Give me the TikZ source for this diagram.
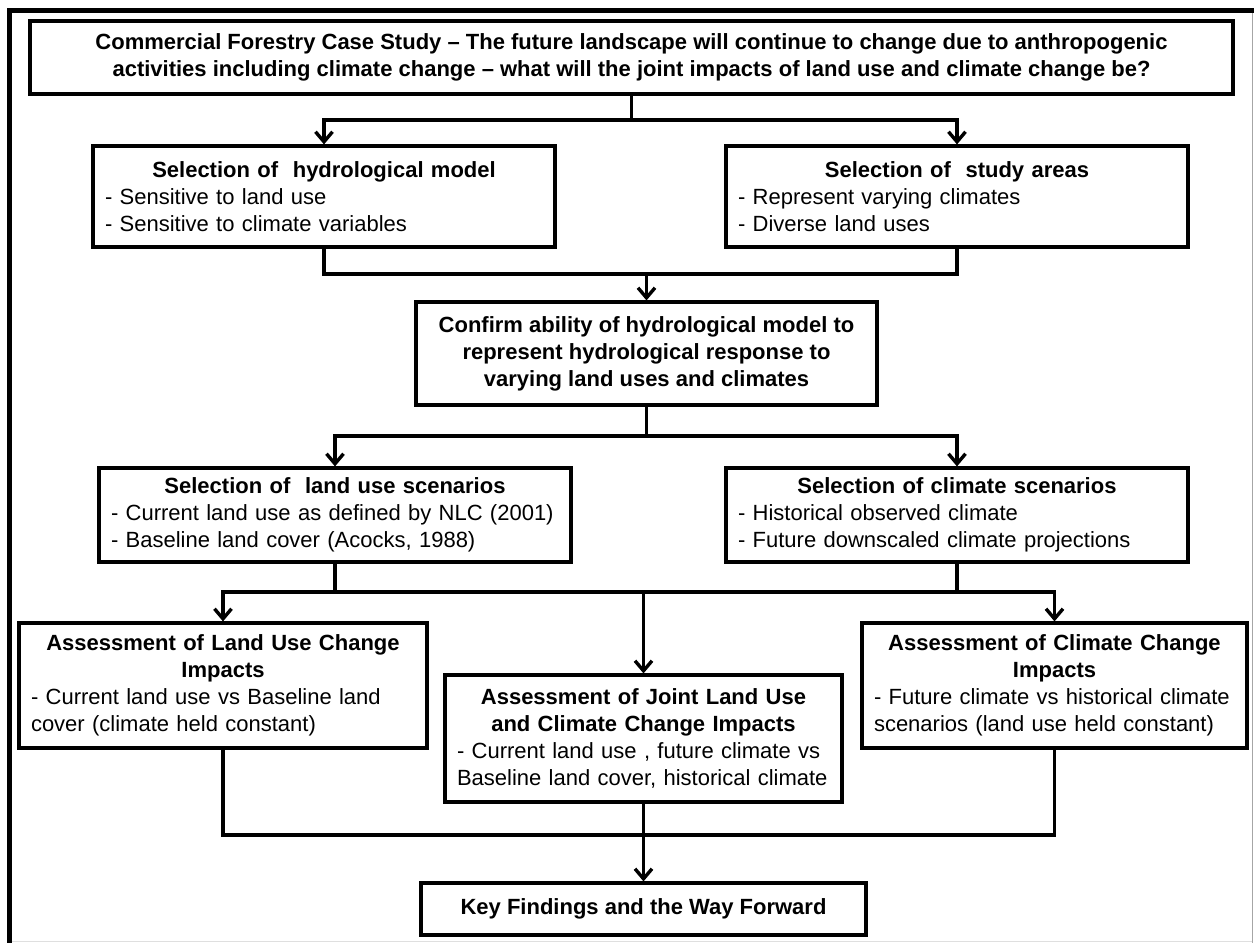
\documentclass[tikz,border=0pt]{standalone}
\usepackage{fontspec}
\setmainfont{Liberation Sans}
\usetikzlibrary{arrows.meta}
\newcommand\mttl[1]{{\centering\bfseries #1\par}}
\newcommand\mbl[1]{{\raggedright\mbox{#1}\par}}
\begin{document}
\begin{tikzpicture}[x=1pt,y=-1pt,
  bx/.style={draw=black, line width=3.2pt, fill=white, inner xsep=12pt, inner ysep=0pt,
    font=\fontsize{22}{27}\selectfont},
  cbx/.style={bx, align=center, font=\fontsize{22}{27}\selectfont\bfseries},
  mbx/.style={bx, execute at begin node={\setlength{\parindent}{0pt}}},
  ln/.style={line width=3.4pt, line join=miter},
  arr/.style={ln, -{Straight Barb[length=10pt,width=17pt]}},
  frm/.style={line width=5pt},
]
\useasboundingbox (0,0) rectangle (1254,943);

% outer frame
\draw[frm] (9.5,943) -- (9.5,10.5) -- (1254,10.5);
\draw[gray!70, line width=1pt] (1252.5,13) -- (1252.5,943);
\draw[gray!25, line width=1pt] (12,941.5) -- (1252,941.5);

% boxes
\node[cbx, minimum width=1203pt, minimum height=73pt] (top) at (631.5,57.5)
  {Commercial Forestry Case Study -- The future landscape will continue to change due to anthropogenic\\
   activities including climate change -- what will the joint impacts of land use and climate change be?};

\node[mbx, text width=438pt, minimum width=462pt, minimum height=101pt] (hydro) at (324,196.5)
  {\mttl{Selection of\ \ hydrological model}\mbl{- Sensitive to land use}\mbl{- Sensitive to climate variables}};

\node[mbx, text width=438pt, minimum width=462pt, minimum height=101pt] (study) at (957,196.5)
  {\mttl{Selection of\ \ study areas}\mbl{- Represent varying climates}\mbl{- Diverse land uses}};

\node[cbx, minimum width=461pt, minimum height=103pt] (confirm) at (646.5,353.5)
  {Confirm ability of hydrological model to\\represent hydrological response to\\varying land uses and climates};

\node[mbx, text width=448pt, minimum width=472pt, minimum height=94pt] (luscen) at (335,515)
  {\mttl{Selection of\ \ land use scenarios}\mbl{- Current land use as defined by NLC (2001)}\mbl{- Baseline land cover (Acocks, 1988)}};

\node[mbx, text width=438pt, minimum width=462pt, minimum height=94pt] (climscen) at (957,515)
  {\mttl{Selection of climate scenarios}\mbl{- Historical observed climate}\mbl{- Future downscaled climate projections}};

\node[mbx, text width=384pt, minimum width=408pt, minimum height=125pt] (luass) at (223,685.5)
  {\mttl{Assessment of Land Use Change\\Impacts}\mbl{- Current land use vs Baseline land}\mbl{cover (climate held constant)}};

\node[mbx, text width=373pt, minimum width=397pt, minimum height=127pt] (joint) at (643.5,738.5)
  {\mttl{Assessment of Joint Land Use\\and Climate Change Impacts}\mbl{- Current land use , future climate vs}\mbl{Baseline land cover, historical climate}};

\node[mbx, text width=361pt, minimum width=385pt, minimum height=125pt] (cc) at (1054.5,685.5)
  {\mttl{Assessment of Climate Change\\Impacts}\mbl{- Future climate vs historical climate}\mbl{scenarios (land use held constant)}};

\node[cbx, minimum width=445pt, minimum height=52pt] (key) at (643.5,909)
  {Key Findings and the Way Forward};

% junctions
\coordinate (j1) at (631.5,120);
\coordinate (j2) at (646.5,274);
\coordinate (j3) at (646.5,436);
\coordinate (j4) at (643.5,592);
\coordinate (j5) at (643.5,835);

% connectors
\draw[ln] (top.south) -- (j1);
\draw[arr] (j1) -| (hydro.north);
\draw[arr] (j1) -| (study.north);

\draw[ln] (hydro.south) |- (j2) -| (study.south);
\draw[arr] (j2) -- (confirm.north);

\draw[ln] (confirm.south) -- (j3);
\draw[arr] (j3) -| (luscen.north);
\draw[arr] (j3) -| (climscen.north);

\draw[ln] (luscen.south) |- (j4);
\draw[ln] (climscen.south) |- (j4);
\draw[arr] (j4) -| (luass.north);
\draw[arr] (j4) -| (cc.north);
\draw[arr] (j4) -- (joint.north);

\draw[ln] (luass.south) |- (j5) -| (cc.south);
\draw[ln] (joint.south) -- (j5);
\draw[arr] (j5) -- (key.north);
\end{tikzpicture}
\end{document}
